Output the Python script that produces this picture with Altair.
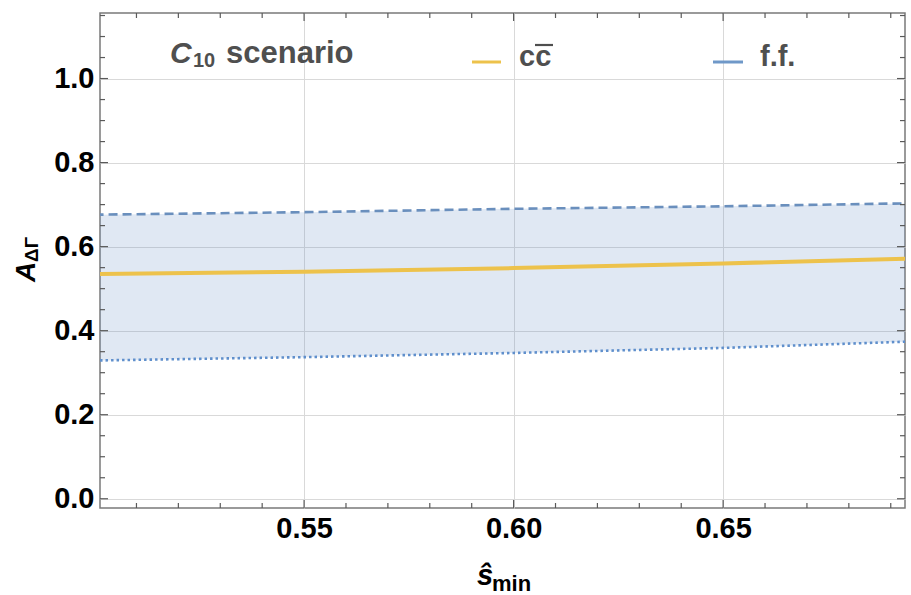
import altair as alt
import pandas as pd

# ---- data ----
s_vals = [0.50, 0.55, 0.60, 0.65, 0.70]
cc_vals = [0.535, 0.540, 0.549, 0.560, 0.573]
ff_upper = [0.676, 0.682, 0.690, 0.696, 0.704]
ff_lower = [0.329, 0.337, 0.347, 0.359, 0.376]

x_major = [0.55, 0.60, 0.65]
x_minor = [round(0.51 + 0.01 * i, 2) for i in range(19) if round(0.51 + 0.01 * i, 2) not in x_major]
y_major = [0.0, 0.2, 0.4, 0.6, 0.8, 1.0]
y_minor = [round(0.05 * i, 2) for i in range(1, 24) if round(0.05 * i, 2) not in y_major]

x_domain = [0.5013, 0.6934]
y_domain = [-0.022, 1.156]

W, H = 805, 495
FONT = "Liberation Sans"
TXT = "#4f4f4f"
YEL = "#EDC24B"
BLUE_D = "#6a8fbd"
BLUE_P = "#5f8fcc"
TICK = "#5a5a5a"

df = pd.DataFrame({"s": s_vals, "cc": cc_vals, "up": ff_upper, "lo": ff_lower})

xs = alt.Scale(domain=x_domain, nice=False, zero=False)
ys = alt.Scale(domain=y_domain, nice=False, zero=False)

x_axis = alt.Axis(values=x_major, format=".2f", title=None, ticks=False,
                  domain=False, grid=True, gridColor="#d9d9d9", gridWidth=1,
                  labelFont=FONT, labelFontWeight="bold", labelFontSize=29,
                  labelColor="black", labelPadding=6)
y_axis = alt.Axis(values=y_major, format=".1f", title=None, ticks=False,
                  domain=False, grid=True, gridColor="#d9d9d9", gridWidth=1,
                  labelFont=FONT, labelFontWeight="bold", labelFontSize=29,
                  labelColor="black", labelPadding=6)

base = alt.Chart(df)

band = base.mark_area(color="#5b87bf", opacity=0.19, clip=True).encode(
    x=alt.X("s:Q", scale=xs, axis=x_axis),
    y=alt.Y("lo:Q", scale=ys, axis=y_axis),
    y2="up:Q",
)
upper = base.mark_line(color=BLUE_D, strokeWidth=2.6, strokeDash=[9, 5], clip=True).encode(
    x=alt.X("s:Q", scale=xs, axis=x_axis), y=alt.Y("up:Q", scale=ys, axis=y_axis))
lower = base.mark_line(color=BLUE_P, strokeWidth=2.6, strokeDash=[2.5, 3], clip=True).encode(
    x=alt.X("s:Q", scale=xs, axis=x_axis), y=alt.Y("lo:Q", scale=ys, axis=y_axis))
central = base.mark_line(color=YEL, strokeWidth=4, clip=True).encode(
    x=alt.X("s:Q", scale=xs, axis=x_axis), y=alt.Y("cc:Q", scale=ys, axis=y_axis))

# ---- inward frame ticks ----
def xticks(vals, length, top):
    d = pd.DataFrame({"s": vals})
    y0, y1 = (0, length) if top else (H, H - length)
    return alt.Chart(d).mark_rule(color=TICK, strokeWidth=1.2).encode(
        x=alt.X("s:Q", scale=xs, axis=x_axis), y=alt.value(y0), y2=alt.value(y1))

def yticks(vals, length, right):
    d = pd.DataFrame({"lo": vals})
    x0, x1 = (W, W - length) if right else (0, length)
    return alt.Chart(d).mark_rule(color=TICK, strokeWidth=1.2).encode(
        y=alt.Y("lo:Q", scale=ys, axis=y_axis), x=alt.value(x0), x2=alt.value(x1))

ticks = [xticks(x_major, 8, False), xticks(x_minor, 5, False),
         xticks(x_major, 8, True), xticks(x_minor, 5, True),
         yticks(y_major, 8, False), yticks(y_minor, 5, False),
         yticks(y_major, 8, True), yticks(y_minor, 5, True)]

# ---- text annotations ----
def txt(t, x, y, size, italic=False, angle=0, align="left", color=TXT, baseline="alphabetic"):
    kw = dict(font=FONT, fontWeight="bold", fontSize=size, color=color,
              align=align, baseline=baseline)
    if italic:
        kw["fontStyle"] = "italic"
    if angle:
        kw["angle"] = angle
    return alt.Chart(pd.DataFrame({"t": [t]})).mark_text(**kw).encode(
        x=alt.value(x), y=alt.value(y), text="t:N")

def seg(x0, x1, y, color, width):
    return alt.Chart(pd.DataFrame({"a": [0]})).mark_rule(color=color, strokeWidth=width).encode(
        x=alt.value(x0), x2=alt.value(x1), y=alt.value(y))

annots = [
    txt("C", 70, 50, 30, italic=True),
    txt("10", 93, 54, 20),
    txt("scenario", 126, 50, 31),
    seg(372, 401, 49, YEL, 3),
    txt("cc", 419, 53, 29),
    seg(435, 453, 32, TXT, 2.2),
    seg(613, 643, 49, "#6f98c8", 3),
    txt("f.f.", 660, 53, 29),
    # y title
    txt("A", -65, 259, 28, italic=True, angle=270, align="center", color="black"),
    txt("ΔΓ", -62, 249, 19, angle=270, align="left", color="black"),
    # x title
    txt("ŝ", 377, 572, 29, italic=True, color="black"),
    txt("min", 392, 578, 22, color="black"),
]

chart = alt.layer(band, upper, lower, central, *ticks, *annots).properties(
    width=W, height=H,
    autosize=alt.AutoSizeParams(type="none"),
    padding={"left": 100, "top": 13, "right": 6, "bottom": 87},
).configure_view(stroke="#7a7a7a", strokeWidth=1.5)

chart.save("out.html", embed_options={"renderer": "svg", "actions": False})
